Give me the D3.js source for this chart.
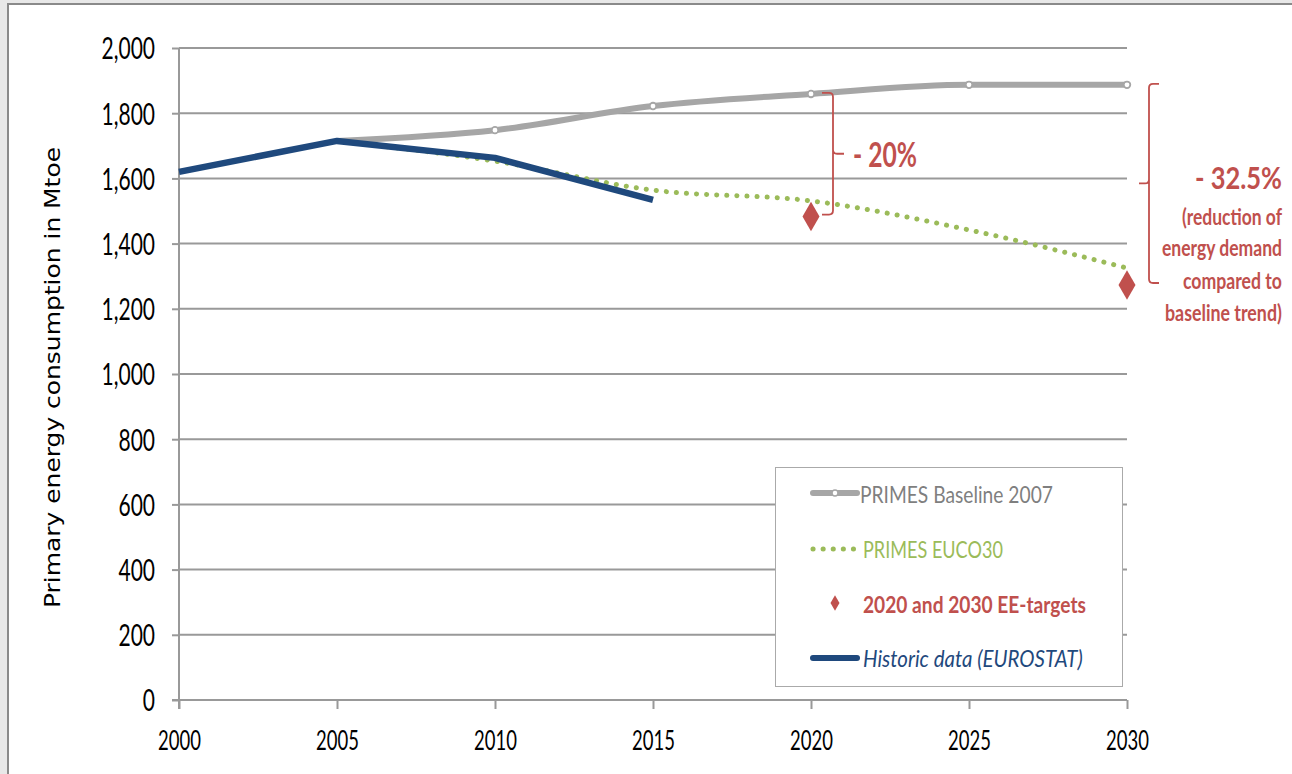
<!DOCTYPE html>
<html>
<head>
<meta charset="utf-8">
<script src="https://cdn.jsdelivr.net/npm/d3@7"></script>
<style>
  html, body { margin: 0; padding: 0; background: #fff; }
  svg { display: block; }
  .cal { font-family: Lato, "Open Sans", sans-serif; }
</style>
</head>
<body>
<svg id="chart" width="1292" height="774"></svg>
<script>
// Years on the horizontal axis
const years = [2000, 2005, 2010, 2015, 2020, 2025, 2030];
const yTicks = [0, 200, 400, 600, 800, 1000, 1200, 1400, 1600, 1800, 2000];

// Primary energy consumption (Mtoe)
const baselineYears = [2005, 2010, 2015, 2020, 2025, 2030];
const baselineValues = [1715, 1748, 1822, 1859, 1887, 1887];

const eucoYears = [2005, 2010, 2015, 2020, 2025, 2030];
const eucoValues = [1715, 1653, 1564, 1531, 1442, 1325];

const historicYears = [2000, 2005, 2010, 2015];
const historicValues = [1620, 1715, 1663, 1534];

const targetYears = [2020, 2030];
const targetValues = [1483, 1273];

const legendLabels = ["PRIMES Baseline 2007", "PRIMES EUCO30", "2020 and 2030 EE-targets", "Historic data (EUROSTAT)"];
const noteLines = ["(reduction of", "energy demand", "compared to", "baseline trend)"];

const colGrey = "#a6a6a6", colGreen = "#9bbb59", colRed = "#c0504d", colBlue = "#1f497d";

const svg = d3.select("#chart");

// Draws a text whose left edge sits at `left` and which is squeezed horizontally to `width`
function fitText(parent, str, left, base, width, attrs) {
  const t = parent.append("text").attr("x", 0).attr("y", 0).text(str);
  Object.entries(attrs).forEach(([k, v]) => t.attr(k, v));
  const natural = t.node().getComputedTextLength();
  t.attr("transform", `translate(${left},${base}) scale(${width / natural},1)`);
  return t;
}

// outer frame
svg.append("rect").attr("x", 0).attr("y", 0).attr("width", 7).attr("height", 774).attr("fill", "#e8e8e8");
svg.append("rect").attr("x", 0).attr("y", 0).attr("width", 1292).attr("height", 3).attr("fill", "#e8e8e8");
svg.append("rect").attr("x", 7).attr("y", 3).attr("width", 2).attr("height", 771).attr("fill", "#8a8a8a");
svg.append("rect").attr("x", 7).attr("y", 3).attr("width", 1285).attr("height", 2).attr("fill", "#8a8a8a");

const x = d3.scaleLinear().domain([2000, 2030]).range([179, 1127]);
const y = d3.scaleLinear().domain([0, 2000]).range([700, 48]);

// horizontal gridlines
svg.append("g").selectAll("line").data(yTicks.filter(d => d > 0)).join("line")
  .attr("x1", x(2000)).attr("x2", x(2030))
  .attr("y1", d => y(d)).attr("y2", d => y(d))
  .attr("stroke", "#999").attr("stroke-width", 2);

// y axis (labels drawn tall and narrow)
const ySy = 1.44;
const yAxis = d3.axisLeft(y).tickValues(yTicks).tickSize(7).tickPadding(17)
  .tickFormat(d3.format(","));
const gy = svg.append("g").attr("transform", `translate(${x(2000)},0)`).call(yAxis);
gy.select(".domain").attr("stroke", "#999").attr("stroke-width", 2).attr("d", `M0,${y(2000)}V${y(0) + 9}`);
gy.selectAll(".tick line").attr("stroke", "#999").attr("stroke-width", 2);
gy.selectAll("text").attr("class", "cal").attr("font-size", 21).attr("fill", "#000")
  .attr("dy", "0.36em").attr("transform", `scale(1,${ySy})`);

// x axis
const xSy = 1.5;
const xAxis = d3.axisBottom(x).tickValues(years).tickSize(9).tickFormat(d3.format("d"));
const gx = svg.append("g").attr("transform", `translate(0,${y(0)})`).call(xAxis);
gx.select(".domain").attr("stroke", "#999").attr("stroke-width", 2).attr("d", `M${x(2000) - 7},0H${x(2030)}`);
gx.selectAll(".tick line").attr("stroke", "#999").attr("stroke-width", 2);
gx.selectAll("text").attr("class", "cal").attr("font-size", 18.5).attr("fill", "#000")
  .attr("y", 50 / xSy).attr("dy", 0).attr("transform", `scale(1,${xSy})`);

// y axis title
svg.append("text")
  .attr("transform", `translate(60,377.5) rotate(-90)`)
  .attr("text-anchor", "middle")
  .attr("font-family", "DejaVu Sans, Verdana, sans-serif")
  .attr("font-size", 20.5).attr("fill", "#000")
  .attr("textLength", 461).attr("lengthAdjust", "spacingAndGlyphs")
  .text("Primary energy consumption in Mtoe");

const zip = (xs, vs) => xs.map((d, i) => ({ year: d, value: vs[i] }));

// PRIMES Baseline 2007
const baseData = zip(baselineYears, baselineValues);
svg.append("path").datum(baseData)
  .attr("d", d3.line().x(d => x(d.year)).y(d => y(d.value)).curve(d3.curveMonotoneX))
  .attr("fill", "none").attr("stroke", colGrey).attr("stroke-width", 6).attr("stroke-linejoin", "round");
svg.append("g").selectAll("circle").data(baseData.slice(1)).join("circle")
  .attr("cx", d => x(d.year)).attr("cy", d => y(d.value)).attr("r", 3.3)
  .attr("fill", "#fff").attr("stroke", colGrey).attr("stroke-width", 1.8);

// PRIMES EUCO30 (dotted)
const eucoData = zip(eucoYears, eucoValues);
svg.append("path").datum(eucoData)
  .attr("d", d3.line().x(d => x(d.year)).y(d => y(d.value)).curve(d3.curveMonotoneX))
  .attr("fill", "none").attr("stroke", colGreen).attr("stroke-width", 5)
  .attr("stroke-dasharray", "0.1 10").attr("stroke-linecap", "round");

// Historic data
const histData = zip(historicYears, historicValues);
svg.append("path").datum(histData)
  .attr("d", d3.line().x(d => x(d.year)).y(d => y(d.value)))
  .attr("fill", "none").attr("stroke", colBlue).attr("stroke-width", 6.5)
  .attr("stroke-linejoin", "round").attr("stroke-linecap", "butt");

// EE targets
const diamond = d3.symbol().type(d3.symbolDiamond).size(250);
svg.append("g").selectAll("path").data(zip(targetYears, targetValues)).join("path")
  .attr("transform", d => `translate(${x(d.year)},${y(d.value)})`)
  .attr("d", diamond).attr("fill", colRed);

// curly brackets between baseline and target
function bracket(xPos, top, bottom, dir, lip) {
  const mid = (top + bottom) / 2;
  const r = 4;
  const p = d3.path();
  p.moveTo(xPos - dir * lip, top);
  p.lineTo(xPos - dir * r, top);
  p.quadraticCurveTo(xPos, top, xPos, top + r);
  p.lineTo(xPos, mid - r);
  p.quadraticCurveTo(xPos, mid, xPos + dir * r, mid);
  p.lineTo(xPos + dir * lip, mid);
  p.moveTo(xPos, mid - r);
  p.lineTo(xPos, bottom - r);
  p.quadraticCurveTo(xPos, bottom, xPos - dir * r, bottom);
  p.lineTo(xPos - dir * lip, bottom);
  svg.append("path").attr("d", p.toString()).attr("fill", "none")
    .attr("stroke", colRed).attr("stroke-width", 1.8);
}
bracket(833, y(baselineValues[3]) - 1, y(targetValues[0]) - 2, 1, 11);
bracket(1149, y(baselineValues[5]) - 1, y(targetValues[1]) - 2, -1, 10);

const boldRed = { class: "cal", "font-weight": "bold", fill: colRed };
fitText(svg, "- 20%", 853, 167, 64, { ...boldRed, "font-size": 35 });

const noteRight = 1282;
fitText(svg, "- 32.5%", noteRight - 87, 189, 87, { ...boldRed, "font-size": 30 });
const noteW = [100, 120, 99, 117];
const noteY = [225, 256, 289, 321];
noteLines.forEach((s, i) =>
  fitText(svg, s, noteRight - noteW[i], noteY[i], noteW[i], { ...boldRed, "font-size": 22.5 }));

// legend
const lg = svg.append("g");
lg.append("rect").attr("x", 775.5).attr("y", 467.5).attr("width", 347).attr("height", 219)
  .attr("fill", "#fff").attr("stroke", "#aaa").attr("stroke-width", 1);
const rowY = [493, 549, 603, 658];
lg.append("line").attr("x1", 813).attr("x2", 857).attr("y1", rowY[0]).attr("y2", rowY[0])
  .attr("stroke", colGrey).attr("stroke-width", 6).attr("stroke-linecap", "round");
lg.append("circle").attr("cx", 835).attr("cy", rowY[0]).attr("r", 3)
  .attr("fill", "#fff").attr("stroke", colGrey).attr("stroke-width", 1.5);
lg.append("line").attr("x1", 813).attr("x2", 856).attr("y1", rowY[1]).attr("y2", rowY[1])
  .attr("stroke", colGreen).attr("stroke-width", 5).attr("stroke-dasharray", "0.1 10").attr("stroke-linecap", "round");
lg.append("path").attr("transform", `translate(835,${rowY[2]})`)
  .attr("d", d3.symbol().type(d3.symbolDiamond).size(70)).attr("fill", colRed);
lg.append("line").attr("x1", 813).attr("x2", 857).attr("y1", rowY[3]).attr("y2", rowY[3])
  .attr("stroke", colBlue).attr("stroke-width", 6).attr("stroke-linecap", "round");
const legendColors = ["#7f7f7f", colGreen, colRed, colBlue];
const legendW = [193, 140, 223, 220];
const legendBase = [503, 558, 613, 667];
legendLabels.forEach((s, i) =>
  fitText(lg, s, i === 0 ? 860 : 863, legendBase[i], legendW[i], {
    class: "cal",
    "font-size": 23.5,
    "font-weight": i === 2 ? "bold" : "normal",
    "font-style": i === 3 ? "italic" : "normal",
    fill: legendColors[i]
  }));
</script>
</body>
</html>
